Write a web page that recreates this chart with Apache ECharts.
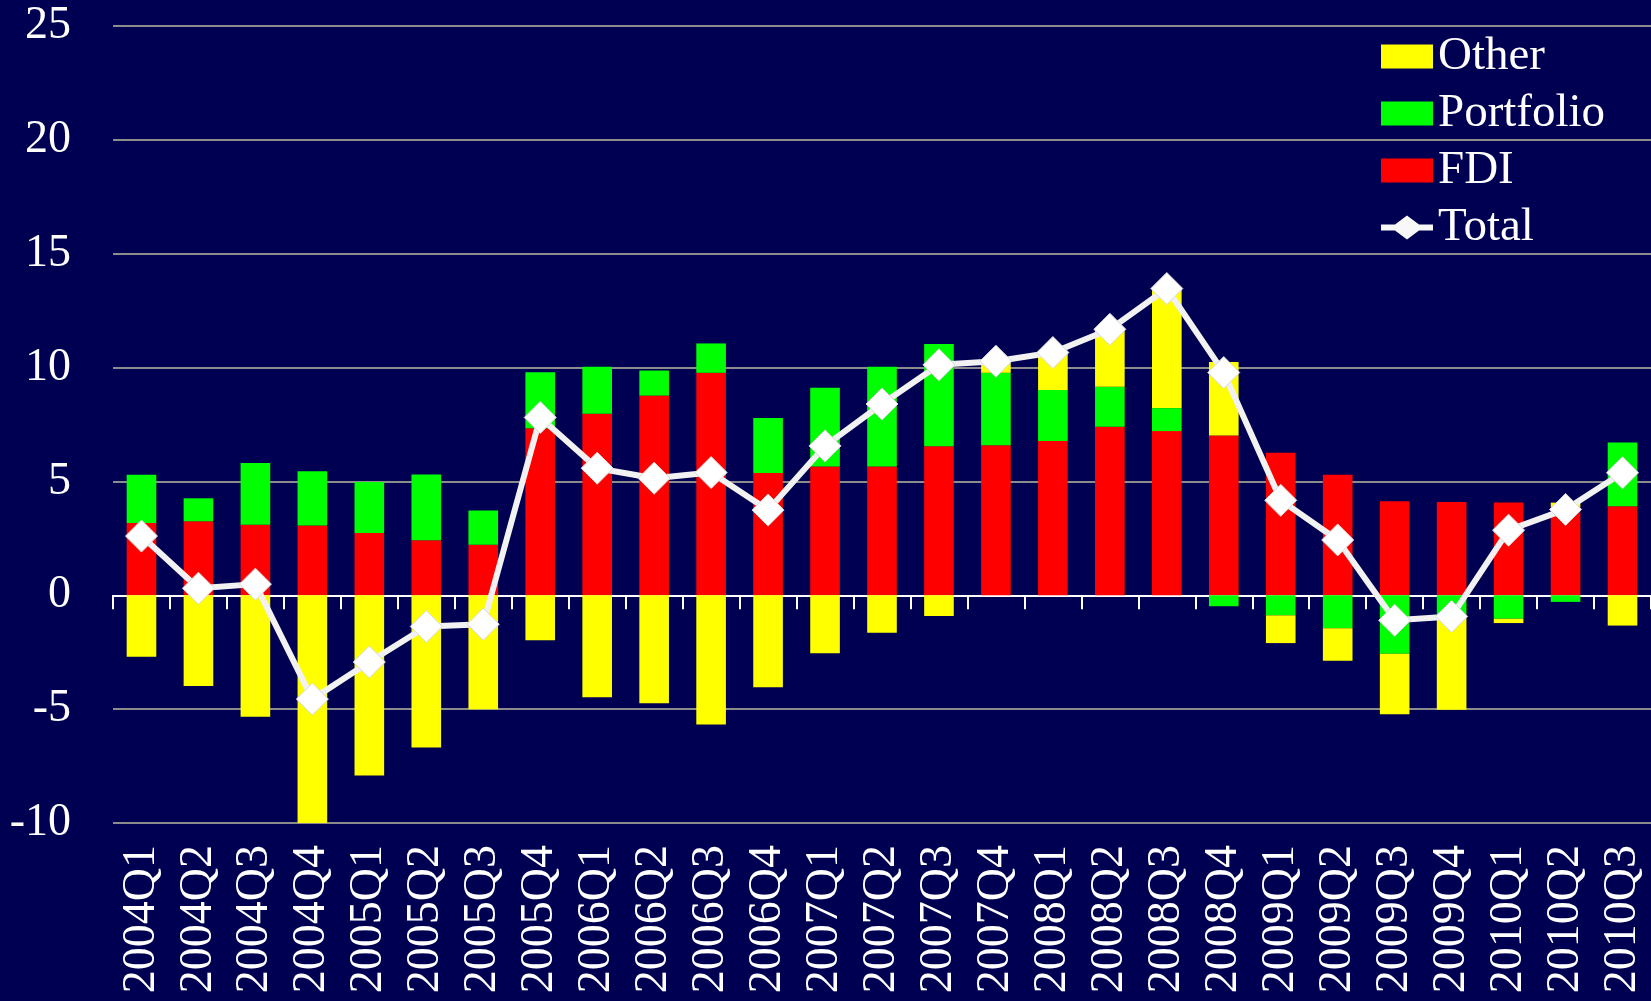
<!DOCTYPE html>
<html lang="en" style="height: 100%">
<head>
  <meta charset="utf-8">
</head>
<body style="height: 100%; margin: 0; background: #000052">
  <div id="container" style="width: 1651px; height: 1001px"></div>

  <script type="text/javascript" src="https://cdn.jsdelivr.net/npm/echarts@6/dist/echarts.min.js"></script>
  <script type="text/javascript">
    var quarters = ['2004Q1', '2004Q2', '2004Q3', '2004Q4', '2005Q1', '2005Q2', '2005Q3', '2005Q4',
      '2006Q1', '2006Q2', '2006Q3', '2006Q4', '2007Q1', '2007Q2', '2007Q3', '2007Q4',
      '2008Q1', '2008Q2', '2008Q3', '2008Q4', '2009Q1', '2009Q2', '2009Q3', '2009Q4',
      '2010Q1', '2010Q2', '2010Q3'];

    var fdi = [3.17, 3.25, 3.10, 3.06, 2.73, 2.42, 2.22, 7.33,
      7.97, 8.77, 9.77, 5.37, 5.66, 5.66, 6.55, 6.59,
      6.77, 7.40, 7.21, 7.02, 6.26, 5.29, 4.13, 4.10,
      4.07, 3.88, 3.91];

    var portfolio = [2.12, 1.01, 2.71, 2.39, 2.25, 2.88, 1.50, 2.47,
      2.07, 1.10, 1.29, 2.41, 3.45, 4.38, 4.49, 3.18,
      2.25, 1.76, 1.01, -0.48, -0.88, -1.45, -2.57, -0.95,
      -1.03, -0.29, 2.80];

    var other = [-2.70, -3.98, -5.33, -10.0, -7.91, -6.68, -5.00, -1.98,
      -4.48, -4.74, -5.67, -4.04, -2.54, -1.64, -0.91, 0.48,
      1.61, 2.50, 5.23, 3.23, -1.22, -1.43, -2.65, -4.08,
      -0.19, 0.19, -1.33];

    var total = [2.60, 0.31, 0.49, -4.56, -2.93, -1.37, -1.27, 7.81,
      5.58, 5.14, 5.39, 3.74, 6.56, 8.40, 10.12, 10.28,
      10.66, 11.68, 13.47, 9.78, 4.17, 2.43, -1.10, -0.93,
      2.86, 3.77, 5.38];

    var serif = '"Liberation Serif", "DejaVu Serif", serif';

    // line + diamond marker for the Total legend entry
    var totalIcon = 'path://M0,9 L14,9 L26,0 L38,9 L52,9 L52,15 L38,15 L26,24 L14,15 L0,15 Z';

    var myChart = echarts.init(document.getElementById('container'), null, { renderer: 'canvas' });

    myChart.setOption({
      backgroundColor: '#000052',
      animation: false,
      grid: { left: 113, right: 0, top: 26, bottom: 178 },
      legend: {
        orient: 'vertical',
        left: 1376,
        top: 28,
        itemWidth: 52,
        itemHeight: 24,
        itemGap: 10,
        data: [
          { name: 'Other', icon: 'rect' },
          { name: 'Portfolio', icon: 'rect' },
          { name: 'FDI', icon: 'rect' },
          { name: 'Total', icon: totalIcon, itemStyle: { color: '#f8f8f8', borderWidth: 0 } }
        ],
        textStyle: { color: '#fff', fontSize: 47, fontFamily: serif, lineHeight: 47 }
      },
      xAxis: [
        {
          type: 'category',
          data: quarters,
          position: 'bottom',
          axisLine: { show: false, onZero: false },
          axisTick: { show: false },
          axisLabel: { rotate: 90, color: '#fff', fontSize: 46, fontFamily: serif, margin: 22, interval: 0 }
        },
        {
          type: 'category',
          data: quarters,
          position: 'bottom',
          axisLine: { show: true, onZero: true, lineStyle: { color: '#fff', width: 2 } },
          axisTick: { show: true, length: 14, lineStyle: { color: '#fff', width: 2 } },
          axisLabel: { show: false }
        }
      ],
      yAxis: {
        type: 'value',
        min: -10,
        max: 25,
        interval: 5,
        axisLine: { show: false },
        axisTick: { show: false },
        axisLabel: { color: '#fff', fontSize: 46, fontFamily: serif, margin: 42 },
        splitLine: { lineStyle: { color: '#8c8c8c', width: 2 } }
      },
      series: [
        {
          name: 'FDI', type: 'bar', stack: 'flows', data: fdi,
          barWidth: '52%', itemStyle: { color: '#ff0000' }
        },
        {
          name: 'Portfolio', type: 'bar', stack: 'flows', data: portfolio,
          itemStyle: { color: '#00ff00' }
        },
        {
          name: 'Other', type: 'bar', stack: 'flows', data: other,
          itemStyle: { color: '#ffff00' }
        },
        {
          name: 'Total', type: 'line', data: total, z: 5,
          symbol: 'diamond', symbolSize: 32, showAllSymbol: true,
          lineStyle: { color: '#f2f2f2', width: 6 },
          itemStyle: { color: '#ffffff', borderColor: '#d8d8d8', borderWidth: 1 }
        }
      ]
    });

    window.addEventListener('resize', myChart.resize);
  </script>
</body>
</html>
